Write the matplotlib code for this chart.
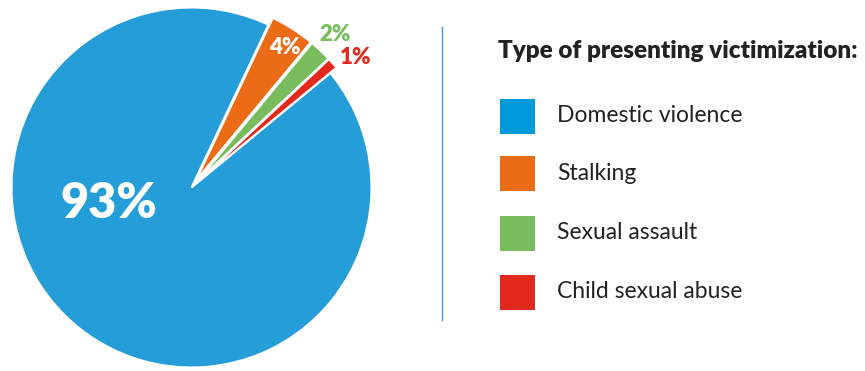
import matplotlib
matplotlib.use("Agg")
import matplotlib.pyplot as plt
from matplotlib.patches import Rectangle
from matplotlib.lines import Line2D

plt.rcParams['font.family'] = ['Lato', 'DejaVu Sans']

# data
categories = ['Domestic violence', 'Stalking', 'Sexual assault', 'Child sexual abuse']
values = [93, 4, 2, 1]
labels = ['93%', '4%', '2%', '1%']
pie_colors = ['#249DD9', '#EC6B17', '#78BC5D', '#E3281C']
legend_colors = ['#0099DA', '#EC6B17', '#78BC5D', '#E3281C']
label_colors = ['white', 'white', '#78BC5D', '#E3281C']
label_pos = [(-0.46, -0.09), (0.52, 0.78), (0.80, 0.85), (0.91, 0.72)]
label_sizes = [35, 16, 16, 16]

W, H = 865, 371
fig = plt.figure(figsize=(W / 100, H / 100), dpi=100)

cx, cy, r = 191.5, 187.5, 180
ax = fig.add_axes([(cx - r) / W, (H - cy - r) / H, 2 * r / W, 2 * r / H])
ax.pie(values, colors=pie_colors, startangle=39.5, counterclock=False,
       explode=[0, 0.045, 0.045, 0.045], radius=1,
       wedgeprops=dict(edgecolor='white', linewidth=1.5))
ax.set_xlim(-1, 1)
ax.set_ylim(-1, 1)
ax.set_aspect('equal')
ax.axis('off')
for child in ax.get_children():
    child.set_clip_on(False)

for lab, (x, y), c, s in zip(labels, label_pos, label_colors, label_sizes):
    ax.text(x, y, lab, color=c, fontsize=s, fontweight='heavy', ha='center', va='center')

# divider
fig.add_artist(Line2D([442 / W, 442 / W], [1 - 27 / H, 1 - 320 / H], color='#3A9AD9', lw=1))

# legend
fig.text(498 / W, 1 - 51 / H, 'Type of presenting victimization:', fontsize=17.5,
         fontweight='heavy', color='#222222', ha='left', va='center')
row_y = [116, 174, 233, 292]
for cat, col, y in zip(categories, legend_colors, row_y):
    fig.add_artist(Rectangle((500 / W, 1 - (y + 17.5) / H), 35 / W, 35 / H,
                             transform=fig.transFigure, facecolor=col, edgecolor='none'))
    fig.text(557 / W, 1 - y / H, cat, fontsize=16.5, color='#222222', ha='left', va='center')

fig.savefig('out.png', dpi=100)
